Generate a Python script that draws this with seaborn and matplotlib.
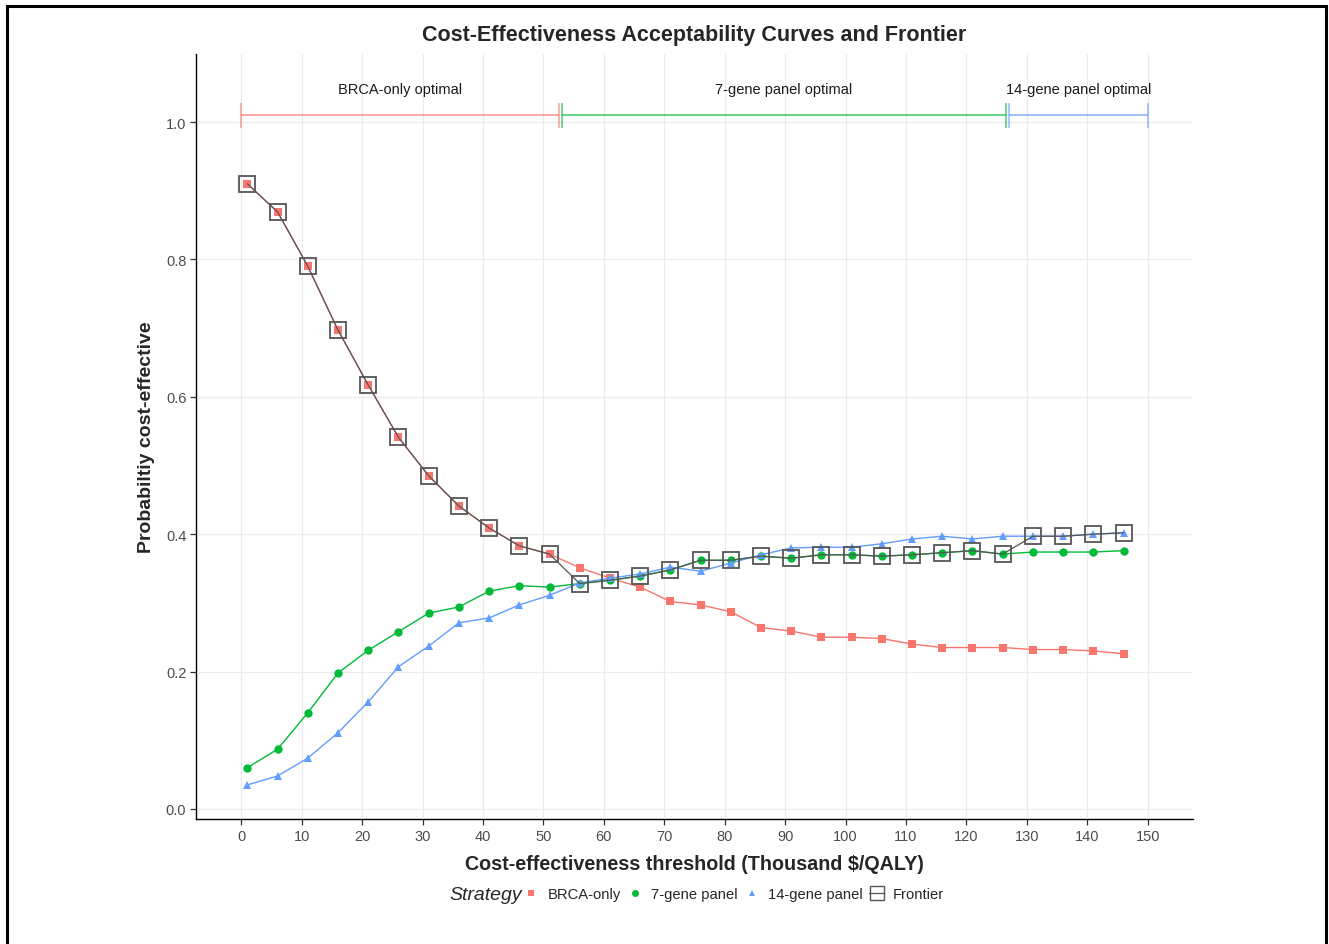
import numpy as np
import pandas as pd
import matplotlib
matplotlib.use("Agg")
import matplotlib.pyplot as plt
from matplotlib.lines import Line2D
from matplotlib.patches import Rectangle
import seaborn as sns

# ---------------- data ----------------
thresholds = [1, 6, 11, 16, 21, 26, 31, 36, 41, 46, 51, 56, 61, 66, 71,
              76, 81, 86, 91, 96, 101, 106, 111, 116, 121, 126, 131, 136, 141, 146]
brca_only = [0.910, 0.869, 0.790, 0.697, 0.617, 0.541, 0.485, 0.441, 0.409, 0.383,
             0.371, 0.351, 0.336, 0.323, 0.302, 0.297, 0.287, 0.264, 0.259, 0.250,
             0.250, 0.248, 0.240, 0.235, 0.235, 0.235, 0.232, 0.232, 0.230, 0.226]
gene7 = [0.060, 0.087, 0.140, 0.198, 0.231, 0.258, 0.285, 0.294, 0.317, 0.325,
         0.323, 0.328, 0.333, 0.339, 0.348, 0.362, 0.362, 0.368, 0.365, 0.370,
         0.370, 0.368, 0.370, 0.373, 0.376, 0.371, 0.374, 0.374, 0.374, 0.376]
gene14 = [0.035, 0.048, 0.074, 0.111, 0.156, 0.207, 0.237, 0.271, 0.278, 0.297,
          0.311, 0.329, 0.336, 0.342, 0.352, 0.346, 0.358, 0.370, 0.380, 0.381,
          0.381, 0.386, 0.393, 0.397, 0.393, 0.397, 0.397, 0.397, 0.400, 0.402]
# optimal strategy at each threshold (frontier)
frontier_strategy = ["BRCA-only"] * 11 + ["7-gene panel"] * 15 + ["14-gene panel"] * 4

strategies = ["BRCA-only", "7-gene panel", "14-gene panel"]
interval_start = [0.0, 53.0, 127.0]
interval_end = [52.5, 126.5, 150.0]
interval_labels = ["BRCA-only optimal", "7-gene panel optimal", "14-gene panel optimal"]

colors = {"BRCA-only": "#F8766D", "7-gene panel": "#00BA38", "14-gene panel": "#619CFF"}
markers = {"BRCA-only": "s", "7-gene panel": "o", "14-gene panel": "^"}

values = {"BRCA-only": brca_only, "7-gene panel": gene7, "14-gene panel": gene14}
df = pd.concat([pd.DataFrame({"Threshold": thresholds, "Probability": values[s], "Strategy": s})
                for s in strategies], ignore_index=True)
frontier_vals = [values[s][i] for i, s in enumerate(frontier_strategy)]
df_front = pd.DataFrame({"Threshold": thresholds, "Probability": frontier_vals})

# ---------------- plot ----------------
sns.set_theme(style="white")
plt.rcParams["font.family"] = ["Liberation Sans", "DejaVu Sans"]

fig = plt.figure(figsize=(13.29, 9.45), dpi=100)
ax = fig.add_axes([0.1475, 0.1323, 0.7502, 0.8095])

sns.lineplot(data=df, x="Threshold", y="Probability", hue="Strategy", style="Strategy",
             palette=colors, markers=markers, dashes=False, markersize=6,
             markeredgewidth=0, linewidth=1.0, legend=False, ax=ax, zorder=3)
sns.lineplot(data=df_front, x="Threshold", y="Probability", color="#555555",
             marker="s", markersize=11.5, markerfacecolor="none", markeredgecolor="#555555",
             markeredgewidth=1.3, linewidth=0.9, legend=False, ax=ax, zorder=4)

# optimal intervals
bar_y = 1.01
for s, x0, x1, lab in zip(strategies, interval_start, interval_end, interval_labels):
    ax.errorbar([(x0 + x1) / 2], [bar_y], xerr=[[(x1 - x0) / 2], [(x1 - x0) / 2]],
                fmt="none", ecolor=colors[s], alpha=0.6, elinewidth=1.5, capsize=9,
                capthick=1.3, zorder=2)
    ax.text((x0 + x1) / 2, 1.048, lab, ha="center", va="center", fontsize=10.5,
            color="#1a1a1a")

ax.set_xlim(-7.5, 157.5)
ax.set_ylim(-0.0146, 1.099)
ax.set_xticks(np.arange(0, 151, 10))
ax.set_yticks([0.0, 0.2, 0.4, 0.6, 0.8, 1.0])
ax.set_yticklabels(["0.0", "0.2", "0.4", "0.6", "0.8", "1.0"])

ax.grid(True, color="#EBEBEB", linewidth=0.9)
ax.set_axisbelow(True)
for side in ["top", "right"]:
    ax.spines[side].set_visible(False)
for side in ["left", "bottom"]:
    ax.spines[side].set_color("black")
    ax.spines[side].set_linewidth(1.0)
ax.tick_params(axis="both", which="both", direction="out", length=4, width=0.9,
               color="#333333", labelsize=10.5, labelcolor="#4D4D4D", bottom=True, left=True,
               pad=3)

ax.set_xlabel("Cost-effectiveness threshold (Thousand $/QALY)", fontsize=14.2,
              fontweight="bold", labelpad=8)
ax.set_ylabel("Probabiltiy cost-effective", fontsize=14, fontweight="bold", labelpad=8)
ax.set_title("Cost-Effectiveness Acceptability Curves and Frontier", fontsize=15.5,
             fontweight="bold", pad=10)

# legend
handles = [Line2D([], [], linestyle="none", marker=markers[s], color=colors[s],
                  markersize=5, markeredgewidth=0) for s in strategies]
handles.append(Line2D([], [], linestyle="-", color="#555555", linewidth=0.9, marker="s",
                      markersize=10, markerfacecolor="none", markeredgecolor="#555555",
                      markeredgewidth=1.0))
leg = fig.legend(handles, strategies + ["Frontier"], loc="center left",
                 bbox_to_anchor=(524 / 1329, 1 - 895 / 945), ncol=4, frameon=False,
                 fontsize=10.6, handlelength=1.0, handletextpad=0.6, columnspacing=0.45,
                 borderpad=0, borderaxespad=0)
fig.text(522 / 1329, 1 - 896 / 945, "Strategy", ha="right", va="center", fontsize=14,
         fontstyle="italic")

# outer border
fig.patches.append(Rectangle((7 / 1329, -0.05), (1326 - 7) / 1329, 1 - 7 / 945 + 0.05,
                             transform=fig.transFigure, fill=False, edgecolor="black",
                             linewidth=2.2))

fig.savefig("out.png", dpi=100)
